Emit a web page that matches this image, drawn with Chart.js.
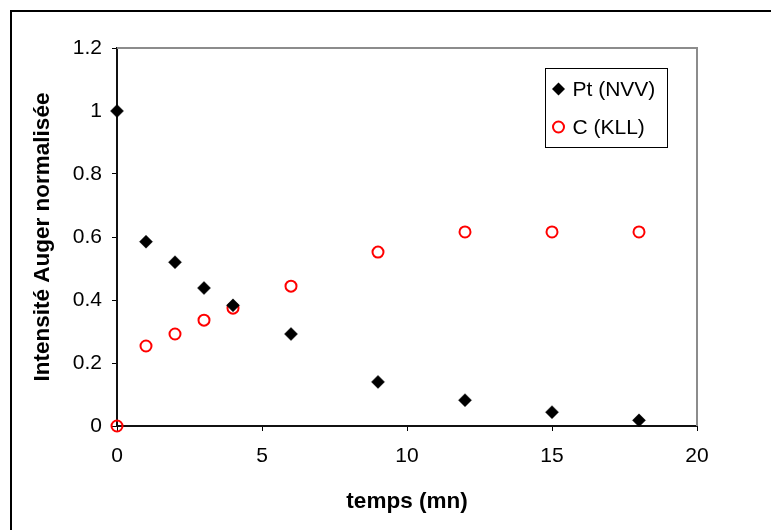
<!DOCTYPE html>
<html>
<head>
<meta charset="utf-8">
<script src="https://cdn.jsdelivr.net/npm/chart.js@4/dist/chart.umd.min.js"></script>
<style>
  html, body { margin: 0; padding: 0; background: #fff; }
  #wrap { width: 771px; height: 530px; }
</style>
</head>
<body>
<div id="wrap"><canvas id="chart" width="771" height="530"></canvas></div>
<script>
// Sputtering time (minutes) and normalised Auger intensities
const times = [0, 1, 2, 3, 4, 6, 9, 12, 15, 18];
const ptNVV = [1.0, 0.585, 0.52, 0.438, 0.383, 0.292, 0.14, 0.082, 0.044, 0.018];
const cKLL  = [0, 0.254, 0.292, 0.336, 0.374, 0.444, 0.552, 0.616, 0.616, 0.616];

const xTickValues = [0, 5, 10, 15, 20];
const yTickValues = [0, 0.2, 0.4, 0.6, 0.8, 1, 1.2];
const xTickLabels = ['0', '5', '10', '15', '20'];
const yTickLabels = ['0', '0.2', '0.4', '0.6', '0.8', '1', '1.2'];

const seriesNames = ['Pt (NVV)', 'C (KLL)'];
const xTitle = 'temps (mn)';
const yTitle = 'Intensité Auger normalisée';

const FONT = "'Liberation Sans', Arial, sans-serif";
const TICK_SIZE = 21;
const TITLE_SIZE = 22.5;

const toPoints = (xs, ys) => xs.map((x, i) => ({ x: x, y: ys[i] }));

// Outer frame, grey plot-area edges and the boxed legend
const decorations = {
  id: 'decorations',
  beforeDatasetsDraw(chart) {
    const { ctx, chartArea: a } = chart;
    ctx.save();
    ctx.strokeStyle = '#8c8c8c';
    ctx.lineWidth = 2;
    ctx.beginPath();
    ctx.moveTo(a.left, a.top);
    ctx.lineTo(a.right, a.top);
    ctx.lineTo(a.right, a.bottom);
    ctx.stroke();
    ctx.restore();
  },
  afterDraw(chart) {
    const { ctx } = chart;
    ctx.save();
    // frame around the whole figure
    ctx.strokeStyle = '#000';
    ctx.lineWidth = 2;
    ctx.strokeRect(11, 11, 800, 600);

    // legend box
    const bx = 545.5, by = 68.5, bw = 122, bh = 79;
    ctx.fillStyle = '#fff';
    ctx.fillRect(bx, by, bw, bh);
    ctx.lineWidth = 1;
    ctx.strokeStyle = '#000';
    ctx.strokeRect(bx, by, bw, bh);

    ctx.font = TICK_SIZE + 'px ' + FONT;
    ctx.textBaseline = 'middle';
    ctx.fillStyle = '#000';
    chart.data.datasets.forEach((ds, i) => {
      const cy = by + 20.5 + i * 38;
      const cx = bx + 13;
      if (ds.pointStyle === 'rectRot') {
        const r = ds.pointRadius;
        ctx.beginPath();
        ctx.moveTo(cx - r, cy);
        ctx.lineTo(cx, cy - r);
        ctx.lineTo(cx + r, cy);
        ctx.lineTo(cx, cy + r);
        ctx.closePath();
        ctx.fillStyle = ds.pointBackgroundColor;
        ctx.fill();
      } else {
        ctx.beginPath();
        ctx.arc(cx, cy, ds.pointRadius, 0, Math.PI * 2);
        ctx.strokeStyle = ds.pointBorderColor;
        ctx.lineWidth = ds.pointBorderWidth;
        ctx.stroke();
      }
      ctx.fillStyle = '#000';
      ctx.fillText(ds.label, bx + 27, cy + 1);
    });
    ctx.restore();
  }
};

new Chart(document.getElementById('chart'), {
  type: 'scatter',
  data: {
    datasets: [
      {
        label: seriesNames[0],
        data: toPoints(times, ptNVV),
        pointStyle: 'rectRot',
        pointRadius: 6.5,
        pointHoverRadius: 6.5,
        pointBackgroundColor: '#000',
        pointBorderColor: '#000',
        pointBorderWidth: 0.5,
        showLine: false,
        clip: false
      },
      {
        label: seriesNames[1],
        data: toPoints(times, cKLL),
        pointStyle: 'circle',
        pointRadius: 5.5,
        pointHoverRadius: 5.5,
        pointBackgroundColor: 'rgba(0,0,0,0)',
        pointBorderColor: '#ff0000',
        pointBorderWidth: 2,
        showLine: false,
        clip: false
      }
    ]
  },
  options: {
    responsive: false,
    animation: false,
    devicePixelRatio: 1,
    layout: { padding: { top: 48, right: 74, left: 0, bottom: 0 } },
    plugins: {
      legend: { display: false },
      tooltip: { enabled: false }
    },
    scales: {
      x: {
        type: 'linear',
        min: 0,
        max: 20,
        afterFit(s) { s.height = 104; },
        afterBuildTicks(s) { s.ticks = xTickValues.map(v => ({ value: v })); },
        ticks: {
          color: '#000',
          font: { family: FONT, size: TICK_SIZE },
          padding: 13,
          maxRotation: 0,
          callback: (v) => xTickLabels[xTickValues.indexOf(v)]
        },
        grid: { drawOnChartArea: false, drawTicks: true, tickLength: 5, color: '#000', lineWidth: 1 },
        border: { color: '#111', width: 2 },
        title: {
          display: true,
          text: xTitle,
          color: '#000',
          font: { family: FONT, size: TITLE_SIZE, weight: 'bold' },
          padding: { top: 0, bottom: 14.5 }
        }
      },
      y: {
        type: 'linear',
        min: 0,
        max: 1.2,
        afterFit(s) { s.width = 117; },
        afterBuildTicks(s) { s.ticks = yTickValues.map(v => ({ value: v })); },
        ticks: {
          color: '#000',
          font: { family: FONT, size: TICK_SIZE },
          padding: 10,
          callback: (v) => yTickLabels[yTickValues.findIndex(t => Math.abs(t - v) < 1e-9)]
        },
        grid: { drawOnChartArea: false, drawTicks: true, tickLength: 5, color: '#000', lineWidth: 1 },
        border: { color: '#111', width: 2 },
        title: {
          display: true,
          text: yTitle,
          color: '#000',
          font: { family: FONT, size: TITLE_SIZE, weight: 'bold' },
          padding: { top: 29.5, bottom: 0 }
        }
      }
    }
  },
  plugins: [decorations]
});
</script>
</body>
</html>
